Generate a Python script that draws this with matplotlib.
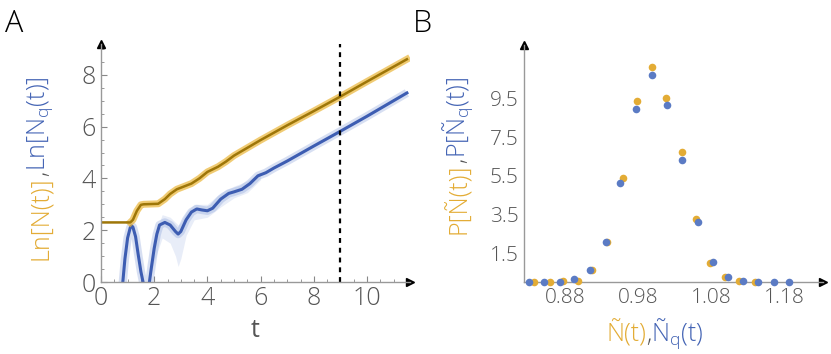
import numpy as np
import matplotlib
matplotlib.use('Agg')
import matplotlib.pyplot as plt

plt.rcParams['font.family'] = ['Open Sans', 'DejaVu Sans']
plt.rcParams['font.weight'] = 'light'
plt.rcParams['mathtext.fontset'] = 'custom'
plt.rcParams['mathtext.rm'] = 'Open Sans:light'

# panel A: ln N(t) (orange) and ln N_q(t) (blue)
t_N = [0.0, 1.1, 1.2, 1.35, 1.5, 1.6, 2.15, 2.4, 2.6, 2.85, 3.1, 3.4, 3.7, 4.0, 4.4, 4.7,
       5.0, 5.5, 6.0, 7.0, 8.0, 9.0, 10.0, 11.5]
lnN = [2.3, 2.3, 2.4, 2.75, 2.98, 3.0, 3.02, 3.2, 3.4, 3.58, 3.68, 3.8, 4.0, 4.25, 4.45, 4.65,
       4.88, 5.18, 5.48, 6.05, 6.6, 7.16, 7.74, 8.6]

t_Nq = [0.76, 0.82, 0.9, 1.0, 1.1, 1.15, 1.2, 1.3, 1.4, 1.5, 1.6, 1.7, 1.82, 1.9, 2.0, 2.1,
        2.2, 2.4, 2.6, 2.8, 2.9, 3.0, 3.2, 3.4, 3.6, 3.8, 4.0, 4.2, 4.5, 4.8, 5.0, 5.3,
        5.6, 5.9, 6.2, 6.5, 7.0, 8.0, 9.0, 10.0, 11.5]
lnNq = [-0.6, 0.0, 0.9, 1.7, 2.1, 2.17, 2.12, 1.75, 1.05, 0.4, -0.1, -0.5, 0.0, 0.6, 1.3, 1.85,
        2.2, 2.3, 2.2, 1.95, 1.85, 1.95, 2.4, 2.7, 2.82, 2.78, 2.75, 2.85, 3.2, 3.42, 3.48, 3.58,
        3.8, 4.1, 4.22, 4.4, 4.67, 5.25, 5.82, 6.4, 7.3]
# faint spread of the blue runs
t_band = [1.8, 2.0, 2.3, 2.6, 2.8, 2.9, 3.0, 3.2, 3.5, 4.0, 4.5, 5.0, 5.5, 6.0]
band_lo = [0.0, 0.8, 1.7, 1.5, 1.0, 0.6, 0.9, 1.8, 2.4, 2.5, 2.9, 3.25, 3.45, 3.95]
band_hi = [0.4, 1.8, 2.6, 2.5, 2.3, 2.2, 2.3, 2.7, 3.0, 3.0, 3.45, 3.7, 3.9, 4.25]
t_cut = 9

# panel B: distributions
x_N = [0.837, 0.858, 0.877, 0.897, 0.916, 0.937, 0.958, 0.978, 0.998, 1.018, 1.039,
       1.058, 1.078, 1.098, 1.118, 1.139]
p_N = [0.0, 0.0, 0.03, 0.07, 0.6, 2.09, 5.39, 9.38, 11.13, 9.55, 6.71, 3.26, 0.99,
       0.27, 0.03, 0.0]
x_Nq = [0.830, 0.851, 0.872, 0.892, 0.914, 0.935, 0.955, 0.977, 0.998, 1.019, 1.040,
        1.061, 1.082, 1.102, 1.123, 1.144, 1.165, 1.186]
p_Nq = [0.0, 0.0, 0.0, 0.15, 0.6, 2.09, 5.11, 8.94, 10.72, 9.16, 6.31, 3.09, 1.06,
        0.27, 0.07, 0.0, 0.0, 0.0]

orange = '#E3AC35'
blue = '#4565B5'
grey = '#555555'

fig = plt.figure(figsize=(8.31, 3.54), dpi=100)

def style_axes(ax):
    for s in ['top', 'right']:
        ax.spines[s].set_visible(False)
    for s in ['left', 'bottom']:
        ax.spines[s].set_color('#999999')
        ax.spines[s].set_linewidth(1)
    ax.plot(1, 0, '>k', ms=6, transform=ax.transAxes, clip_on=False)
    ax.plot(0, 1, '^k', ms=6, transform=ax.transAxes, clip_on=False)

def multicolor(fig, x, y, parts, size, rotation=0):
    # parts: list of (text, colour); laid one after another, centred on (x, y) in pixels
    r = fig.canvas.get_renderer()
    texts = []
    for s, c in parts:
        texts.append(fig.text(0, 0, s, color=c, fontsize=size, rotation=rotation,
                              ha='left', va='baseline' if rotation == 0 else 'center'))
    ext = [tx.get_window_extent(r) for tx in texts]
    if rotation == 0:
        total = sum(e.width for e in ext)
        pos = x - total / 2
        for tx, e in zip(texts, ext):
            tx.set_position((pos / fig.bbox.width, y / fig.bbox.height))
            pos += e.width
    else:
        total = sum(e.height for e in ext)
        pos = y - total / 2
        for tx, e in zip(texts, ext):
            tx.set_ha('center')
            tx.set_va('bottom')
            tx.set_position((x / fig.bbox.width, pos / fig.bbox.height))
            pos += e.height

# ---- panel A
axA = fig.add_axes([101 / 831, 72 / 354, 11.6 * 26.6 / 831, 9.2 * 25.9 / 354])
axA.fill_between(t_band, band_lo, band_hi, color='#8fa6dc', alpha=0.2, lw=0)
axA.plot(t_Nq, lnNq, color='#7d97d6', lw=6, alpha=0.3, solid_capstyle='butt')
axA.plot(t_Nq, lnNq, color='#3D5DB2', lw=2.2)
axA.plot(t_N[1:], lnN[1:], color='#EBB638', lw=5, alpha=0.7)
axA.plot(t_N, lnN, color='#9E7608', lw=1.8)
axA.plot([t_cut, t_cut], [0, 9.2], color='k', lw=1.6, ls=(0, (2.2, 2.2)))
axA.set_xlim(0, 11.6)
axA.set_ylim(0, 9.2)
axA.set_xticks([0, 2, 4, 6, 8, 10])
axA.set_yticks([0, 2, 4, 6, 8])
axA.set_xticks(np.arange(0, 11.6, 0.5), minor=True)
axA.set_yticks(np.arange(0, 9.2, 0.5), minor=True)
axA.tick_params(which='both', direction='in', color='#888888', labelcolor=grey,
                labelsize=18)
axA.tick_params(which='major', length=4)
axA.tick_params(which='minor', length=2.5)
axA.tick_params(axis='x', pad=3)
axA.tick_params(axis='y', pad=4)
style_axes(axA)
axA.set_xlabel('t', fontsize=18, color=grey, labelpad=5)

# ---- panel B
axB = fig.add_axes([524 / 831, 72 / 354, 0.409 * 730 / 831, 12.3 * 19.3 / 354])
axB.scatter(x_N, p_N, s=30, color=orange, lw=0, clip_on=False, zorder=3)
axB.scatter(x_Nq, p_Nq, s=30, color='#5B7BC4', lw=0, clip_on=False, zorder=4)
axB.set_xlim(0.823, 1.232)
axB.set_ylim(0, 12.3)
axB.set_xticks([0.88, 0.98, 1.08, 1.18])
axB.set_xticklabels(['0.88', '0.98', '1.08', '1.18'])
axB.set_yticks([1.5, 3.5, 5.5, 7.5, 9.5])
axB.tick_params(length=0, labelcolor=grey, labelsize=15, pad=4)
style_axes(axB)

fig.text(5 / 831, 1 - 32 / 354, 'A', fontsize=22, color='k')
fig.text(413 / 831, 1 - 32 / 354, 'B', fontsize=22, color='k')

fig.canvas.draw()
multicolor(fig, 40, 354 - 168, [('Ln[N(t)]', orange), (',', grey),
                                (r'Ln[N$_\mathregular{q}$(t)]', blue)], 18, rotation=90)
multicolor(fig, 458, 354 - 155, [('P[Ñ(t)]', orange), (',', grey),
                                 (r'P[Ñ$_\mathregular{q}$(t)]', blue)], 18, rotation=90)
multicolor(fig, 655, 354 - 342, [('Ñ(t)', orange), (',', grey),
                                 (r'Ñ$_\mathregular{q}$(t)', blue)], 18)

fig.savefig('out.png', dpi=100)
